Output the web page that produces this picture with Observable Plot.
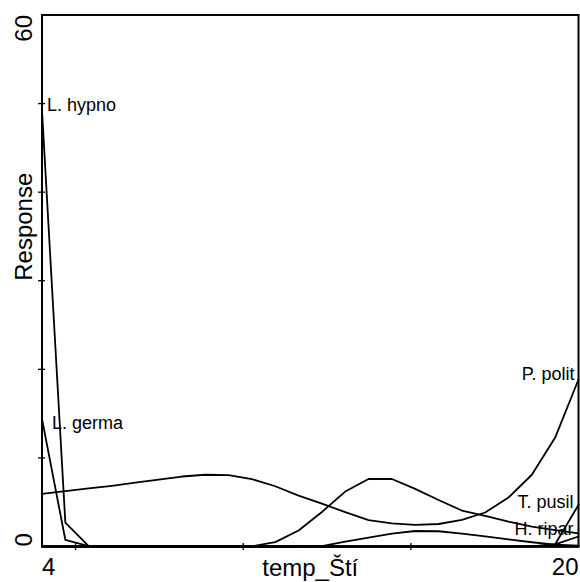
<!DOCTYPE html>
<html><head><meta charset="utf-8">
<script src="https://cdn.jsdelivr.net/npm/d3@7"></script>
<script src="https://cdn.jsdelivr.net/npm/@observablehq/plot@0.6"></script>
<style>body{margin:0;background:#fff} svg{display:block}</style>
</head><body><div id="chart"></div>
<script>
// evaluation grid of the response curves (temp_Ští)
const temp = [4, 4.696, 5.391, 6.087, 6.783, 7.478, 8.174, 8.870, 9.565, 10.261, 10.957, 11.652,
              12.348, 13.043, 13.739, 14.435, 15.130, 15.826, 16.522, 17.217, 17.913, 18.609, 19.304, 20];

const lHypno = [49.2, 2.7, 0.05, 0, 0, 0, 0, 0, 0, 0, 0, 0, 0, 0, 0, 0, 0, 0, 0, 0, 0, 0, 0, 0];
const lGerma = [14.4, 0.76, 0.05, 0, 0, 0, 0, 0, 0, 0, 0, 0, 0, 0, 0, 0, 0, 0, 0, 0, 0, 0, 0, 0];
const pPolit = [5.95, 6.25, 6.55, 6.85, 7.2, 7.55, 7.9, 8.1, 8.05, 7.6, 6.8, 5.75,
                4.85, 3.87, 2.98, 2.6, 2.45, 2.54, 3.0, 3.84, 5.53, 8.1, 12.3, 18.85];
const humpSp = [0, 0, 0, 0, 0, 0, 0, 0, 0, 0.02, 0.49, 1.8,
                3.9, 6.2, 7.62, 7.62, 6.5, 5.25, 4.06, 3.45, 2.8, 2.25, 1.85, 1.47];
const bumpSp = [0, 0, 0, 0, 0, 0, 0, 0, 0, 0, 0, 0,
                0.05, 0.55, 1.0, 1.45, 1.75, 1.72, 1.45, 1.15, 0.8, 0.48, 0.2, 0.1];
const tPusil = [0, 0, 0, 0, 0, 0, 0, 0, 0, 0, 0, 0, 0, 0, 0, 0, 0, 0, 0, 0, 0, 0.02, 0.25, 4.7];
const hRipar = [0, 0, 0, 0, 0, 0, 0, 0, 0, 0, 0, 0, 0, 0, 0, 0, 0, 0, 0, 0, 0, 0.02, 0.25, 1.13];

const speciesNames = ["L. hypno", "L. germa", "P. polit", "sp. 4", "sp. 5", "T. pusil", "H. ripar"];
const speciesValues = [lHypno, lGerma, pPolit, humpSp, bumpSp, tPusil, hRipar];
const labelledSpecies = ["L. hypno", "L. germa", "P. polit", "T. pusil", "H. ripar"];

const xTicks = [5, 10, 15];
const yTicks = [10, 20, 30, 40, 50];
const xTickLabels = [4, 20];
const yTickLabels = [0, 60];
const xTitle = "temp_Ští";
const yTitle = "Response";

// long table
const rows = [];
speciesNames.forEach((name, k) => {
  speciesValues[k].forEach((v, i) => rows.push({species: name, temp: temp[i], response: v}));
});

// label at each curve's maximum
const labels = labelledSpecies.map(name => {
  const vals = speciesValues[speciesNames.indexOf(name)];
  const i = d3.maxIndex(vals);
  return {species: name, temp: temp[i], response: vals[i]};
});
const labelStyle = {
  "L. hypno": {textAnchor: "start", dx: 5, dy: 0},
  "L. germa": {textAnchor: "start", dx: 10, dy: 10},
  "P. polit": {textAnchor: "end", dx: -4, dy: 0},
  "T. pusil": {textAnchor: "end", dx: -5, dy: 3},
  "H. ripar": {textAnchor: "end", dx: -5, dy: -1}
};

const font = "'Liberation Sans', Arial, sans-serif";

const plot = Plot.plot({
  width: 580,
  height: 582,
  marginLeft: 41.5,
  marginRight: 2,
  marginTop: 14.5,
  marginBottom: 36,
  x: {domain: [4, 20], label: null},
  y: {domain: [0, 60], label: null},
  style: {fontFamily: font, background: "white", color: "black"},
  marks: [
    Plot.axisX({ticks: xTicks, tickSize: 7, dy: -3, tickFormat: () => "", label: null, strokeWidth: 1.3}),
    Plot.axisY({ticks: yTicks, tickSize: 7, dx: 3.5, tickFormat: () => "", label: null, strokeWidth: 1.3}),
    Plot.line(rows, {x: "temp", y: "response", z: "species", stroke: "black", strokeWidth: 1.8, curve: "linear"}),
    Plot.frame({stroke: "black", strokeWidth: 2}),
    // x tick labels
    Plot.text([xTickLabels[0]], {x: d => d, frameAnchor: "bottom", lineAnchor: "bottom", dy: 28.5, textAnchor: "start", fontSize: 24}),
    Plot.text([xTickLabels[1]], {x: d => d, frameAnchor: "bottom", lineAnchor: "bottom", dy: 28.5, textAnchor: "end", fontSize: 24}),
    // y tick labels (rotated)
    Plot.text([yTickLabels[0]], {y: d => d, frameAnchor: "left", lineAnchor: "bottom", dx: -10, rotate: -90, textAnchor: "start", fontSize: 24}),
    Plot.text([yTickLabels[1]], {y: d => d, frameAnchor: "left", lineAnchor: "bottom", dx: -10, rotate: -90, textAnchor: "end", fontSize: 24}),
    // axis titles
    Plot.text([xTitle], {frameAnchor: "bottom", lineAnchor: "bottom", dy: 29.7, fontSize: 24}),
    Plot.text([yTitle], {frameAnchor: "left", lineAnchor: "bottom", dx: -10, rotate: -90, fontSize: 24}),
    // species labels
    ...labels.map(l => Plot.text([l], {
      x: "temp", y: "response", text: "species", lineAnchor: "bottom", fontSize: 18,
      fill: "black", ...labelStyle[l.species]
    }))
  ]
});
document.getElementById("chart").appendChild(plot);
</script>
</body></html>
